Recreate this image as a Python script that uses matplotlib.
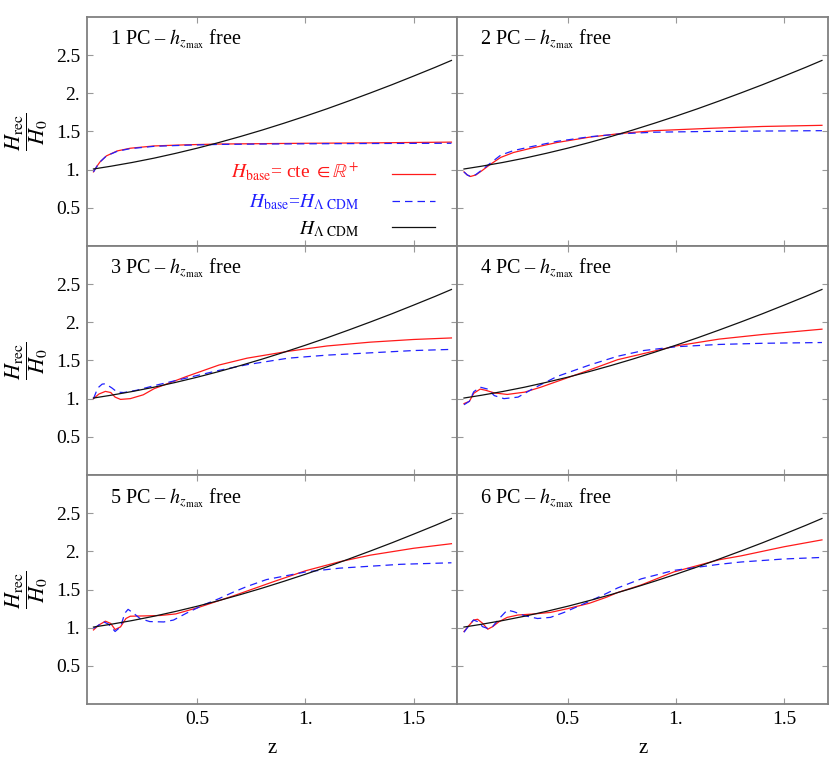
import matplotlib.pyplot as plt

plt.rcParams['font.family'] = ['Liberation Serif', 'DejaVu Serif']
plt.rcParams['mathtext.fontset'] = 'stix'

# H_LCDM / H0, black curve (same in every panel)
z_lcdm = [0.02, 0.1, 0.2, 0.3, 0.4, 0.5, 0.6, 0.7, 0.8, 0.9, 1.0, 1.1, 1.2, 1.3, 1.4, 1.5, 1.6, 1.675]
h_lcdm = [1.008, 1.044, 1.094, 1.150, 1.213, 1.281, 1.355, 1.434, 1.518, 1.607, 1.700, 1.797, 1.899,
          2.004, 2.112, 2.225, 2.340, 2.430]

# 1 PC
z_red1 = [0.02, 0.035, 0.05, 0.08, 0.13, 0.19, 0.3, 0.45, 0.6, 0.8, 1.0, 1.3, 1.675]
h_red1 = [0.97, 1.04, 1.10, 1.18, 1.245, 1.28, 1.31, 1.325, 1.335, 1.34, 1.345, 1.35, 1.36]
z_blue1 = [0.02, 0.035, 0.05, 0.08, 0.13, 0.19, 0.3, 0.45, 0.6, 0.8, 1.0, 1.3, 1.675]
h_blue1 = [0.97, 1.04, 1.10, 1.18, 1.24, 1.275, 1.305, 1.32, 1.33, 1.335, 1.338, 1.342, 1.345]

# 2 PC
z_red2 = [0.02, 0.035, 0.05, 0.075, 0.105, 0.14, 0.19, 0.25, 0.33, 0.45, 0.6, 0.75, 0.9, 1.15, 1.4, 1.675]
h_red2 = [0.97, 0.93, 0.91, 0.93, 0.99, 1.065, 1.16, 1.225, 1.28, 1.355, 1.425, 1.475, 1.51, 1.54, 1.565, 1.58]
z_blue2 = [0.02, 0.035, 0.05, 0.075, 0.105, 0.14, 0.19, 0.25, 0.33, 0.45, 0.6, 0.75, 0.9, 1.15, 1.4, 1.675]
h_blue2 = [0.97, 0.93, 0.91, 0.935, 1.0, 1.08, 1.19, 1.25, 1.30, 1.37, 1.43, 1.47, 1.49, 1.50, 1.505, 1.51]

# 3 PC
z_red3 = [0.02, 0.045, 0.075, 0.10, 0.12, 0.145, 0.19, 0.25, 0.30, 0.375, 0.45, 0.6, 0.73, 0.92, 1.1, 1.3,
          1.5, 1.675]
h_red3 = [1.0, 1.06, 1.095, 1.08, 1.02, 0.99, 1.0, 1.05, 1.13, 1.21, 1.29, 1.44, 1.53, 1.62, 1.69, 1.74,
          1.775, 1.795]
z_blue3 = [0.02, 0.04, 0.06, 0.075, 0.105, 0.13, 0.16, 0.22, 0.30, 0.45, 0.6, 0.73, 0.92, 1.1, 1.3, 1.5, 1.675]
h_blue3 = [1.0, 1.14, 1.19, 1.195, 1.14, 1.085, 1.08, 1.11, 1.17, 1.27, 1.37, 1.445, 1.53, 1.57, 1.60, 1.63,
           1.645]

# 4 PC
z_red4 = [0.02, 0.045, 0.065, 0.095, 0.12, 0.16, 0.22, 0.30, 0.375, 0.45, 0.6, 0.73, 0.85, 1.0, 1.2, 1.4, 1.675]
h_red4 = [0.935, 0.965, 1.07, 1.125, 1.11, 1.075, 1.055, 1.085, 1.15, 1.225, 1.375, 1.51, 1.59, 1.69, 1.78,
          1.84, 1.91]
z_blue4 = [0.02, 0.045, 0.065, 0.095, 0.13, 0.16, 0.205, 0.27, 0.345, 0.45, 0.6, 0.73, 0.85, 1.0, 1.2, 1.4,
           1.675]
h_blue4 = [0.92, 0.965, 1.09, 1.15, 1.125, 1.04, 1.0, 1.02, 1.14, 1.29, 1.44, 1.555, 1.63, 1.68, 1.71, 1.725,
           1.735]

# 5 PC
z_red5 = [0.02, 0.045, 0.075, 0.10, 0.12, 0.145, 0.17, 0.19, 0.27, 0.33, 0.4, 0.5, 0.67, 0.85, 1.0, 1.16, 1.3,
          1.5, 1.675]
h_red5 = [0.97, 1.035, 1.085, 1.055, 0.975, 1.01, 1.12, 1.15, 1.155, 1.16, 1.18, 1.26, 1.42, 1.60, 1.745,
          1.865, 1.95, 2.04, 2.10]
z_blue5 = [0.02, 0.045, 0.065, 0.09, 0.12, 0.145, 0.165, 0.18, 0.205, 0.235, 0.28, 0.345, 0.39, 0.45, 0.53,
           0.6, 0.67, 0.73, 0.82, 1.0, 1.16, 1.44, 1.675]
h_blue5 = [0.99, 1.035, 1.08, 1.045, 0.95, 1.01, 1.19, 1.24, 1.19, 1.12, 1.08, 1.075, 1.10, 1.19, 1.30, 1.38,
           1.47, 1.54, 1.63, 1.73, 1.78, 1.83, 1.85]

# 6 PC
z_red6 = [0.02, 0.045, 0.065, 0.083, 0.106, 0.13, 0.152, 0.183, 0.22, 0.27, 0.345, 0.42, 0.5, 0.6, 0.68, 0.73,
          0.84, 0.99, 1.2, 1.3, 1.5, 1.675]
h_red6 = [0.95, 1.035, 1.10, 1.11, 1.057, 0.98, 1.013, 1.08, 1.135, 1.166, 1.18, 1.20, 1.25, 1.32, 1.40, 1.46,
          1.56, 1.73, 1.89, 1.94, 2.06, 2.15]
z_blue6 = [0.02, 0.045, 0.064, 0.083, 0.106, 0.13, 0.152, 0.183, 0.22, 0.25, 0.30, 0.36, 0.42, 0.483, 0.58,
           0.68, 0.73, 0.84, 0.99, 1.2, 1.3, 1.5, 1.675]
h_blue6 = [0.94, 1.035, 1.10, 1.08, 1.013, 0.99, 1.013, 1.12, 1.23, 1.21, 1.157, 1.12, 1.135, 1.20, 1.32,
           1.45, 1.52, 1.64, 1.75, 1.83, 1.86, 1.90, 1.92]

red_curves = [(z_red1, h_red1), (z_red2, h_red2), (z_red3, h_red3),
              (z_red4, h_red4), (z_red5, h_red5), (z_red6, h_red6)]
blue_curves = [(z_blue1, h_blue1), (z_blue2, h_blue2), (z_blue3, h_blue3),
               (z_blue4, h_blue4), (z_blue5, h_blue5), (z_blue6, h_blue6)]

y_ticks = [0.5, 1.0, 1.5, 2.0, 2.5]
y_ticklabels = ['0.5', '1.', '1.5', '2.', '2.5']
x_ticks = [0.5, 1.0, 1.5]
x_ticklabels = ['0.5', '1.', '1.5']

legend_labels = [r'$H_{\rm base}$= cte $\in \mathbb{R}^{+}$', r'$H_{\rm base}$=$H_{\Lambda\ \rm CDM}$',
                 r'$H_{\Lambda\ \rm CDM}$']

RED = '#ff1a1a'
BLUE = '#2020ff'
BLACK = '#111111'
DASH = (0, (6, 4))

fig, axes = plt.subplots(3, 2, figsize=(8.3, 7.69), dpi=100, sharex=True, sharey=True)
fig.subplots_adjust(left=0.1048, right=0.9976, top=0.978, bottom=0.0845, wspace=0, hspace=0)

lw = 0.9
for k, ax in enumerate(axes.flat):
    zr, hr = red_curves[k]
    zb, hb = blue_curves[k]
    ax.plot(zr, hr, color=RED, lw=lw)
    ax.plot(zb, hb, color=BLUE, lw=lw, ls=DASH)
    ax.plot(z_lcdm, h_lcdm, color=BLACK, lw=lw)

    ax.set_xlim(-0.01, 1.703)
    ax.set_ylim(0, 3.0)
    ax.set_xticks(x_ticks)
    ax.set_xticklabels(x_ticklabels)
    ax.set_yticks(y_ticks)
    ax.set_yticklabels(y_ticklabels)
    ax.tick_params(direction='in', length=4, width=0.8, color='#999999', labelsize=14,
                   top=True, right=True, pad=5)
    for sp in ax.spines.values():
        sp.set_color('#808080')
        sp.set_linewidth(1.3)

    ax.text(0.062, 0.878, f'{k + 1} PC – $h_{{z_{{\\rm max}}}}$ free', transform=ax.transAxes,
            fontsize=14.5, va='baseline', ha='left')

    if k % 2 == 0:
        ax.set_ylabel(r'$\dfrac{H_{\rm rec}}{H_0}$', fontsize=16)
        ax.yaxis.set_label_coords(-0.1, 0.5)
    if k >= 4:
        ax.set_xlabel('z', fontsize=15, labelpad=8)

# legend in the first panel: right-aligned coloured labels, key lines to their right
ax0 = axes[0, 0]
key_styles = [dict(color=RED, lw=lw), dict(color=BLUE, lw=lw, ls=DASH), dict(color=BLACK, lw=lw)]
text_colors = [RED, BLUE, 'black']
text_y = [0.297, 0.17, 0.052]
key_y = [0.314, 0.197, 0.083]
for lab, col, ty, ky, st in zip(legend_labels, text_colors, text_y, key_y, key_styles):
    ax0.text(0.735, ty, lab, color=col, fontsize=14, ha='right', va='baseline', transform=ax0.transAxes)
    ax0.plot([0.824, 0.94], [ky, ky], transform=ax0.transAxes, **st)

fig.savefig('out.png', dpi=100)
